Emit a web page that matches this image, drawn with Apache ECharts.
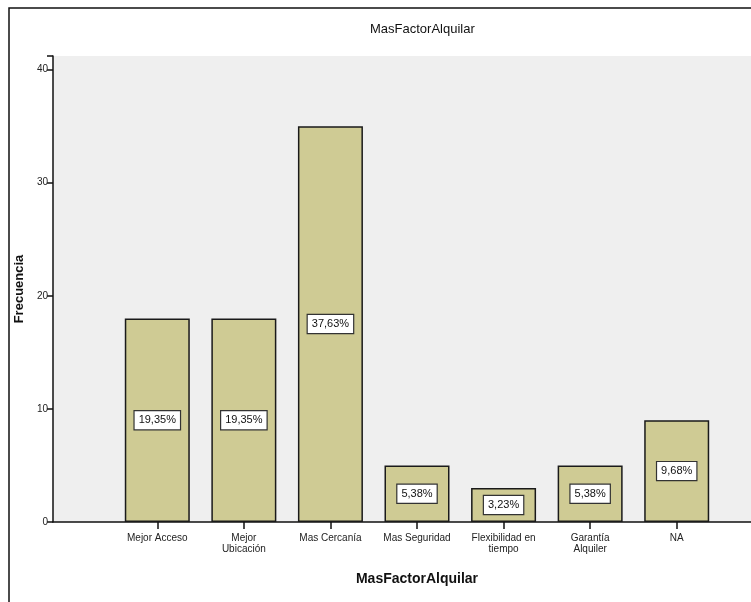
<!DOCTYPE html>
<html>
<head>
<meta charset="utf-8">
<script src="https://cdn.jsdelivr.net/npm/echarts@6/dist/echarts.min.js"></script>
<style>
html, body { margin: 0; padding: 0; background: #fff; }
#main { width: 751px; height: 602px; }
</style>
</head>
<body>
<div id="main"></div>
<script>
var categories = ['Mejor Acceso', 'Mejor\nUbicación', 'Mas Cercanía', 'Mas Seguridad', 'Flexibilidad en\ntiempo', 'Garantía\nAlquiler', 'NA'];
var counts = [18, 18, 35, 5, 3, 5, 9];
var percentLabels = ['19,35%', '19,35%', '37,63%', '5,38%', '3,23%', '5,38%', '9,68%'];
var yTicks = [0, 10, 20, 30, 40];

var myChart = echarts.init(document.getElementById('main'));
var yMax = 41.2;

var option = {
  backgroundColor: '#ffffff',
  animation: false,
  title: {
    text: 'MasFactorAlquilar',
    left: 365,
    top: 18,
    textStyle: { fontFamily: 'Liberation Sans', fontSize: 13, fontWeight: 'normal', color: '#111' }
  },
  graphic: [{
    type: 'rect',
    shape: { x: 9, y: 8, width: 800, height: 700 },
    style: { fill: 'none', stroke: '#111', lineWidth: 1.5 },
    z: 100
  }],
  grid: [
    { left: 53, right: -40, top: 56, bottom: 80, show: true, backgroundColor: '#efefef', borderWidth: 0 },
    { left: 114, right: 31, top: 56, bottom: 80 }
  ],
  xAxis: [
    {
      gridIndex: 0, type: 'value', min: 0, max: 1,
      axisLine: { show: true, lineStyle: { color: '#111', width: 1.5 } },
      axisTick: { show: false }, axisLabel: { show: false }, splitLine: { show: false }
    },
    {
      gridIndex: 1, type: 'category', data: categories,
      axisLine: { show: false },
      axisTick: { show: true, alignWithLabel: true, length: 7, lineStyle: { color: '#111', width: 1.5 } },
      axisLabel: { interval: 0, fontFamily: 'Liberation Sans', fontSize: 10, color: '#222', lineHeight: 11, margin: 11 },
      name: 'MasFactorAlquilar',
      nameLocation: 'middle',
      nameGap: 50,
      nameTextStyle: { fontFamily: 'Liberation Sans', fontSize: 14, fontWeight: 'bold', color: '#111' }
    }
  ],
  yAxis: [
    {
      gridIndex: 0, type: 'value', min: 0, max: yMax, interval: 10,
      axisLine: { show: true, lineStyle: { color: '#111', width: 1.5 } },
      axisTick: { show: true, length: 6, lineStyle: { color: '#111', width: 1.5 } },
      axisLabel: {
        fontFamily: 'Liberation Sans', fontSize: 10, color: '#222', margin: 5,
        formatter: function (v) { return yTicks.indexOf(v) >= 0 ? String(v) : ''; }
      },
      splitLine: { show: false },
      name: 'Frecuencia',
      nameLocation: 'middle',
      nameGap: 24,
      nameTextStyle: { fontFamily: 'Liberation Sans', fontSize: 13, fontWeight: 'bold', color: '#111' }
    },
    {
      gridIndex: 1, type: 'value', min: 0, max: yMax, show: false
    }
  ],
  series: [{
    type: 'bar',
    xAxisIndex: 1,
    yAxisIndex: 1,
    data: counts,
    barWidth: 65,
    itemStyle: { color: '#cfcb94', borderColor: '#1a1a1a', borderWidth: 1.5 },
    label: {
      show: true,
      position: 'inside',
      formatter: function (p) { return percentLabels[p.dataIndex]; },
      fontFamily: 'Liberation Sans',
      fontSize: 11,
      color: '#111',
      backgroundColor: '#ffffff',
      borderColor: '#333',
      borderWidth: 1.2,
      padding: [4, 4, 3, 4]
    }
  }]
};

myChart.setOption(option);
window.addEventListener('resize', function () { myChart.resize(); });
</script>
</body>
</html>
